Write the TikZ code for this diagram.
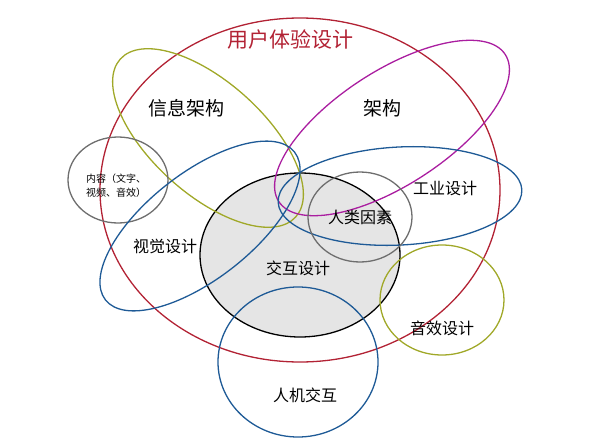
\documentclass[tikz,border=0pt]{standalone}
\usepackage{fontspec}
\newfontfamily\cjk{Noto Sans CJK SC}
\begin{document}
\begin{tikzpicture}[x=1pt,y=-1pt,
  ring/.style={line width=1.3pt},
  lbl/.style={font=\cjk\fontsize{16}{18}\selectfont}]
\useasboundingbox (0,0) rectangle (600,439);
\definecolor{cred}{RGB}{178,34,52}
\definecolor{colive}{RGB}{160,168,40}
\definecolor{cmag}{RGB}{170,30,160}
\definecolor{cblue}{RGB}{30,90,150}
\definecolor{cgrey}{RGB}{110,110,110}
\draw[ring,fill=black!10] (300,255) ellipse [x radius=100,y radius=82];
\draw[ring,cred] (300,190) ellipse [x radius=200,y radius=172];
\draw[ring,colive,rotate around={-42:(208,138)}] (208,138) ellipse [x radius=118,y radius=56];
\draw[ring,cmag,rotate around={33:(392,128)}] (392,128) ellipse [x radius=135,y radius=57];
\draw[ring,cgrey] (118,180) ellipse [x radius=50,y radius=43];
\draw[ring,cblue,rotate around={38:(200,226)}] (200,226) ellipse [x radius=120,y radius=53];
\draw[ring,cblue,rotate around={3:(400,196)}] (400,196) ellipse [x radius=122,y radius=49];
\draw[ring,cgrey] (360,217) ellipse [x radius=52,y radius=45];
\draw[ring,colive] (442,300) ellipse [x radius=62,y radius=55];
\draw[ring,cblue] (298,362) ellipse [x radius=80,y radius=75];
\node[text=cred,font=\cjk\fontsize{21}{23}\selectfont] (t0) at (290,40) {用户体验设计};
\node[font=\cjk\fontsize{19}{21}\selectfont] (t1) at (186,108) {信息架构};
\node[font=\cjk\fontsize{19}{21}\selectfont] (t2) at (382,108) {架构};
\node[font=\cjk\fontsize{10}{14}\selectfont,align=left] (t3) at (116,186) {内容（文字、\\视频、音效）};
\node[lbl] (t4) at (445,188) {工业设计};
\node[lbl] (t5) at (360,217) {人类因素};
\node[lbl] (t6) at (165,246) {视觉设计};
\node[lbl] (t7) at (298,268) {交互设计};
\node[lbl] (t8) at (442,328) {音效设计};
\node[lbl] (t9) at (305,395) {人机交互};
\end{tikzpicture}
\end{document}
